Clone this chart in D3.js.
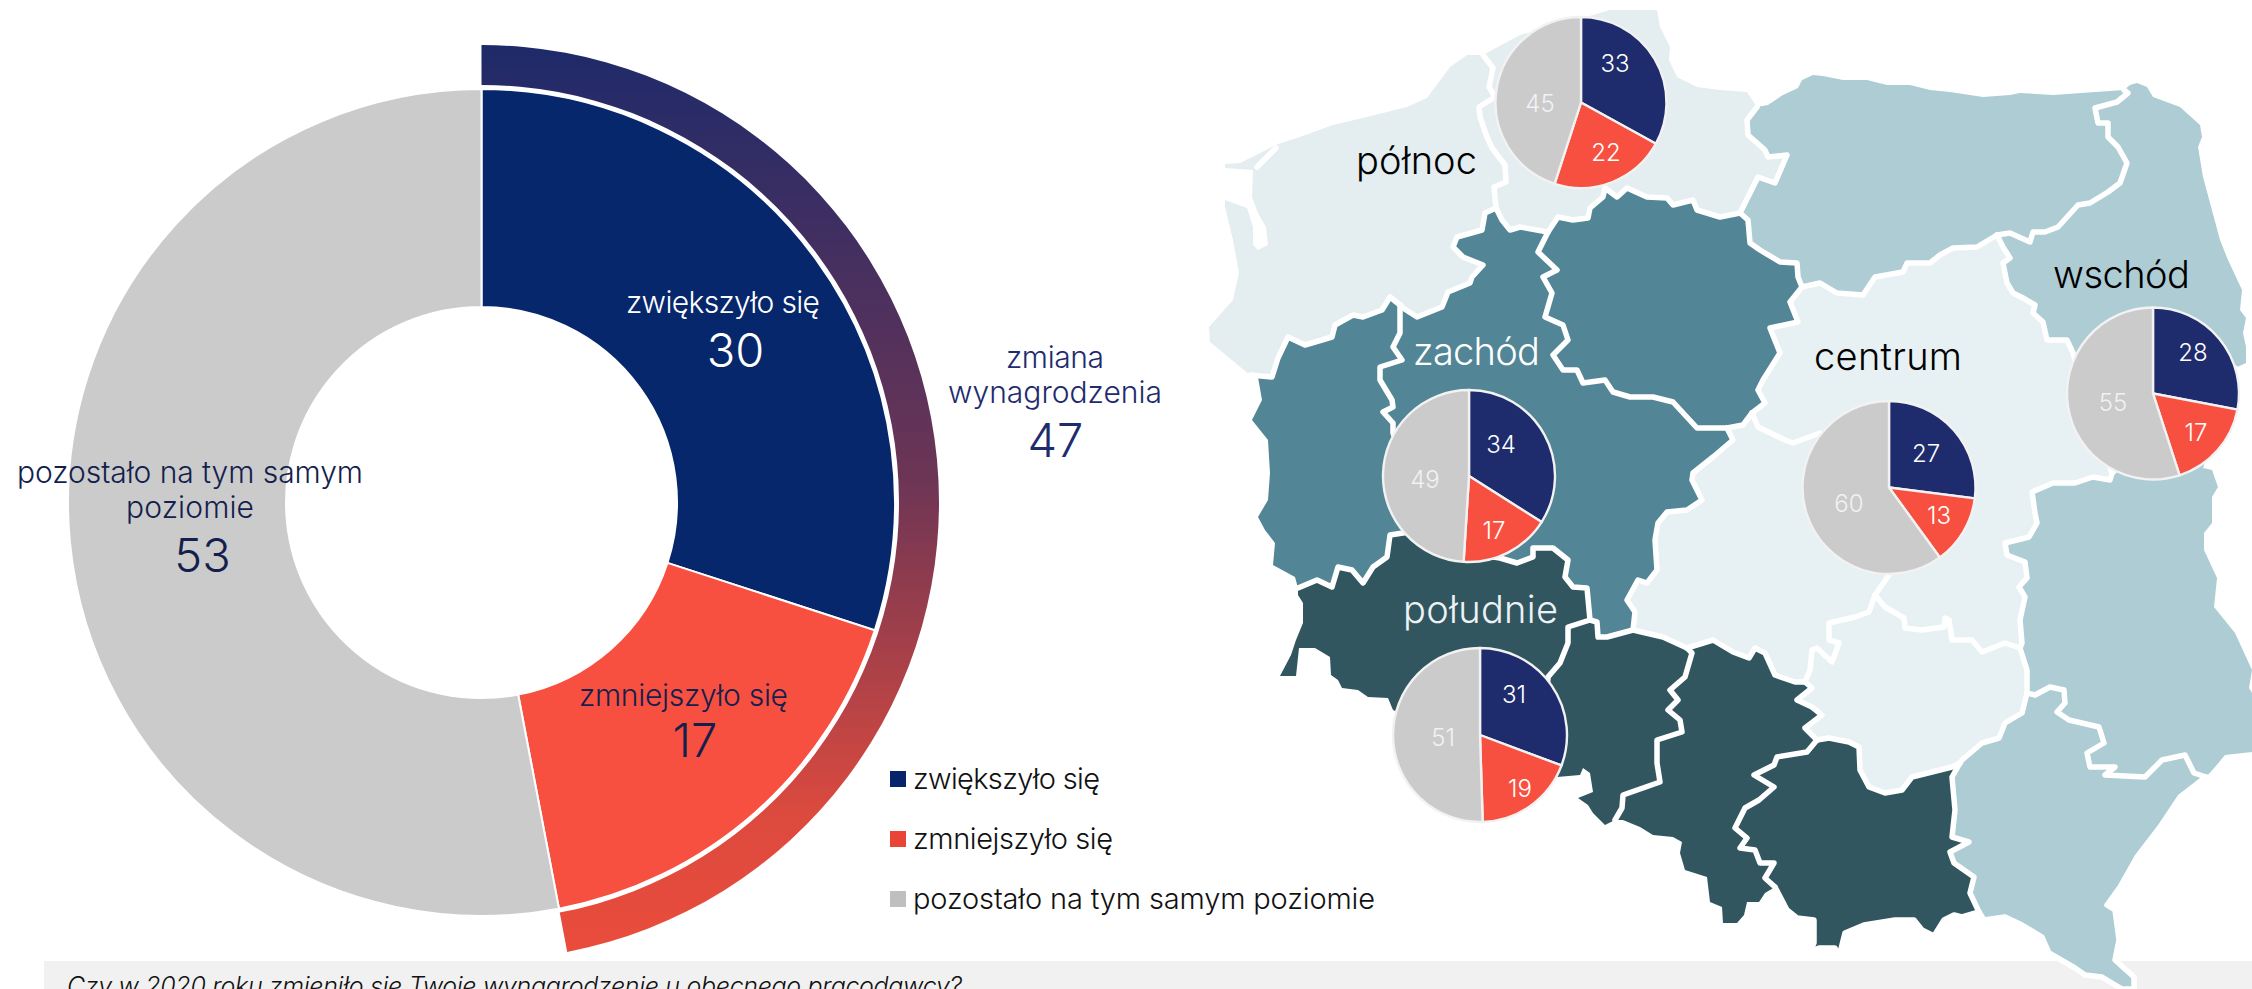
<!DOCTYPE html>
<html lang="pl">
<head>
<meta charset="utf-8">
<script src="https://cdn.jsdelivr.net/npm/d3@7"></script>
<style>
html,body{margin:0;padding:0;background:#fff;overflow:hidden}
svg{display:block}
text{font-family:"Inter",sans-serif}
</style>
</head>
<body>
<svg id="chart" width="2252" height="989"></svg>
<script>
// ---------- DATA ----------
const answerLabels = ["zwiększyło się", "zmniejszyło się", "pozostało na tym samym poziomie"];
const totalValues = [30, 17, 53];
const changeLabel = ["zmiana", "wynagrodzenia"];
const changeValue = 47;
const question = "Czy w 2020 roku zmieniło się Twoje wynagrodzenie u obecnego pracodawcy?";

const regionNames = ["północ", "zachód", "wschód", "centrum", "południe"];
const regionIncreased = [33, 34, 28, 27, 31];
const regionDecreased = [22, 17, 17, 13, 19];
const regionSame = [45, 49, 55, 60, 51];

// Map geometry, in map units: shared border arcs.
const zpCoast = [[1250,375],[1210,342],[1209,327],[1233,300],[1239,273],[1233,240],[1225,207],[1225,200],[1233,203],[1247,208],[1253,227],[1253,245],[1258,250],[1268,245],[1266,227],[1258,213],[1252,197],[1253,170],[1225,168],[1225,164],[1240,163],[1262,152],[1278,144],[1300,137],[1333,125],[1367,117],[1407,107],[1427,98],[1450,67],[1467,55],[1483,55]];
const zpLagoon = [[1257,167],[1276,148]];
const zpPm = [[1483,55],[1493,68],[1489,87],[1495,97],[1479,107],[1480,117],[1487,137],[1492,148],[1505,165],[1506,182],[1494,187],[1496,208]];
const zpWp = [[1496,208],[1485,213],[1482,230],[1457,237],[1453,247],[1463,257],[1483,265],[1472,277],[1470,283],[1448,292],[1442,307],[1417,317],[1403,308],[1400,305]];
const zpLb = [[1400,305],[1390,297],[1382,310],[1363,317],[1353,315],[1335,325],[1332,337],[1305,345],[1288,337],[1278,358],[1272,377],[1250,375]];
const pmCoast = [[1483,55],[1520,35],[1593,15],[1610,10],[1657,10],[1660,27],[1670,47],[1669,60],[1677,77],[1697,87],[1720,90],[1747,92],[1757,107]];
const pmWm = [[1757,107],[1747,120],[1748,135],[1765,150],[1768,157],[1787,155],[1775,183],[1758,177],[1740,213]];
const pmKp = [[1740,213],[1720,217],[1697,210],[1693,200],[1673,205],[1667,198],[1647,197],[1627,188],[1617,197],[1605,188],[1603,197],[1590,208],[1588,218],[1573,220],[1558,217],[1548,232]];
const pmWp = [[1548,232],[1520,227],[1510,230],[1502,220],[1496,208]];
const kpWp = [[1548,232],[1538,252],[1557,270],[1543,277],[1552,293],[1545,317],[1563,325],[1568,340],[1553,355],[1563,370],[1577,370],[1583,383],[1605,380],[1613,392],[1630,397],[1653,397],[1673,402],[1697,428],[1727,428]];
const kpLd = [[1727,428],[1743,425],[1752,413]];
const kpMz = [[1802,287],[1790,302],[1798,322],[1770,328],[1780,353],[1763,380],[1758,390],[1765,403],[1752,413]];
const kpWm = [[1740,213],[1748,220],[1750,243],[1760,250],[1780,262],[1797,263],[1798,277],[1802,287]];
const wpLb = [[1400,305],[1400,333],[1393,347],[1402,360],[1380,367],[1380,380],[1392,400],[1393,407],[1383,412],[1393,423],[1393,433],[1410,480],[1420,530]];
const wpDs = [[1420,530],[1480,555],[1500,558],[1517,563],[1533,557],[1533,548],[1553,548],[1568,560],[1565,577],[1573,587],[1587,588],[1590,620]];
const wpOp = [[1590,620],[1597,622],[1598,637],[1607,637],[1633,630]];
const wpLd = [[1727,428],[1733,440],[1713,457],[1693,473],[1692,480],[1702,500],[1687,510],[1667,512],[1658,523],[1655,540],[1657,570],[1647,583],[1638,580],[1627,600],[1635,612],[1633,630]];
const lbDs = [[1298,588],[1317,580],[1332,587],[1338,567],[1352,570],[1363,583],[1373,567],[1387,557],[1390,535],[1403,533],[1420,530]];
const lbWest = [[1298,588],[1295,577],[1273,565],[1275,543],[1265,530],[1258,517],[1268,500],[1270,473],[1268,440],[1252,420],[1262,400],[1258,377],[1250,375]];
const dsOp = [[1590,620],[1568,627],[1568,643],[1560,663],[1548,677],[1545,730],[1540,775]];
const dsOuter = [[1540,775],[1393,710],[1388,698],[1368,697],[1358,690],[1342,688],[1338,680],[1331,675],[1330,657],[1315,648],[1299,648],[1296,676],[1280,676],[1291,655],[1296,640],[1303,623],[1303,603],[1298,595],[1298,588]];
const opLd = [[1633,630],[1663,637],[1687,648]];
const opSl = [[1687,648],[1692,653],[1685,677],[1670,690],[1678,700],[1668,710],[1680,720],[1682,732],[1657,740],[1657,763],[1660,782],[1623,795],[1622,808],[1615,820]];
const opOuter = [[1615,820],[1605,825],[1593,813],[1588,805],[1578,798],[1593,792],[1590,773],[1583,768],[1580,775],[1557,777],[1540,775]];
const ldSl = [[1687,648],[1713,640],[1733,652],[1749,658],[1755,648],[1765,653],[1775,675],[1795,682],[1805,682]];
const ldMz = [[1752,413],[1758,427],[1785,440],[1793,443],[1820,433],[1889,575],[1875,595]];
const ldSw = [[1875,595],[1869,612],[1855,617],[1829,623],[1829,640],[1839,643],[1832,662],[1817,648],[1812,650],[1810,670],[1805,682]];
const slSw = [[1805,682],[1812,688],[1797,700],[1812,707],[1822,715],[1805,728],[1817,740]];
const slMa = [[1817,740],[1807,752],[1777,757],[1774,765],[1754,775],[1774,787],[1759,800],[1745,808],[1735,828],[1747,838],[1740,848],[1755,850],[1760,863],[1774,863],[1765,878],[1775,887]];
const slOuter = [[1775,887],[1765,893],[1759,902],[1747,902],[1744,915],[1737,923],[1723,923],[1722,907],[1710,902],[1707,877],[1685,870],[1680,853],[1682,842],[1673,837],[1653,835],[1640,827],[1623,820],[1615,820]];
const swMa = [[1817,740],[1829,738],[1849,742],[1859,747],[1860,770],[1869,787],[1885,793],[1902,790],[1912,777],[1952,767],[1960,763]];
const maPk = [[1960,763],[1952,777],[1955,810],[1952,837],[1969,842],[1950,852],[1954,863],[1974,877],[1970,893],[1979,912]];
const maOuter = [[1775,887],[1787,910],[1797,918],[1814,920],[1814,943],[1810,952],[1819,948],[1835,948],[1839,957],[1845,933],[1864,925],[1895,920],[1914,920],[1922,930],[1934,936],[1944,920],[1954,915],[1962,917],[1979,912]];
const swMz = [[1875,595],[1885,607],[1904,618],[1905,628],[1922,630],[1944,627],[1945,618],[1949,620],[1952,640],[1972,640],[1982,652],[2005,643],[2020,648]];
const swLu = [[2020,648],[2027,670],[2027,693]];
const swPk = [[2027,693],[2022,713],[2005,723],[1999,738],[1982,743],[1962,760],[1960,763]];
const mzPd = [[1997,235],[2003,247],[2010,258],[2003,263],[2007,283],[2013,293],[2023,298],[2035,305],[2033,313],[2043,322],[2047,340],[2067,340],[2073,353],[2092,420],[2112,473]];
const mzLu = [[2112,473],[2110,480],[2093,477],[2075,483],[2053,483],[2032,492],[2035,513],[2037,523],[2029,537],[2005,543],[2007,555],[2025,562],[2027,578],[2019,587],[2025,597],[2020,620],[2022,643],[2020,648]];
const wmMz = [[1802,287],[1820,283],[1837,293],[1863,295],[1875,277],[1903,272],[1907,263],[1930,263],[1940,255],[1953,248],[1977,247],[1997,235]];
const wmCoast = [[1757,107],[1768,105],[1783,95],[1798,88],[1802,80],[1813,75],[1823,76],[1843,80],[1867,80],[1887,85],[1910,85],[1930,90],[1950,92],[1983,97],[2010,95],[2020,93],[2053,95],[2124,90]];
const wmPd = [[1997,235],[2010,233],[2030,242],[2033,232],[2045,232],[2058,227],[2078,205],[2090,203],[2108,192],[2120,183],[2127,163],[2118,147],[2108,137],[2108,123],[2098,123],[2095,108],[2117,102],[2128,93],[2124,90]];
const pdEast = [[2124,90],[2130,85],[2137,83],[2147,87],[2153,97],[2180,107],[2200,125],[2202,137],[2198,147],[2203,177],[2210,203],[2220,240],[2228,260],[2242,290],[2240,310],[2246,318],[2243,333],[2246,347],[2246,363],[2235,368]];
const pdLu = [[2235,368],[2112,473]];
const luEast = [[2235,368],[2203,468],[2212,470],[2218,487],[2212,497],[2212,523],[2204,533],[2204,550],[2217,578],[2214,607],[2235,633],[2252,670],[2249,688],[2252,693],[2252,752],[2225,755],[2215,767],[2206,777]];
const pkLu = [[2027,693],[2035,695],[2050,687],[2064,690],[2065,703],[2057,712],[2069,720],[2099,727],[2104,743],[2087,753],[2090,767],[2115,767],[2105,775],[2145,777],[2162,760],[2185,755],[2194,773],[2206,777]];
const pkOuter = [[1979,912],[1984,920],[2005,917],[2022,925],[2042,937],[2049,953],[2075,968],[2085,975],[2102,977],[2122,989],[2134,989],[2134,977],[2115,960],[2119,940],[2115,910],[2107,905],[2120,887],[2137,857],[2160,827],[2180,797],[2202,780],[2206,777]];

// voivodeship -> region index + chain of arcs ("rev" = walked backwards)
const rev = a => a.slice().reverse();
const voivodeshipNames = ["zachodniopomorskie","pomorskie","kujawsko-pomorskie","wielkopolskie","lubuskie","dolnośląskie","opolskie","śląskie","małopolskie","świętokrzyskie","łódzkie","mazowieckie","warmińsko-mazurskie","podlaskie","lubelskie","podkarpackie"];
const voivodeshipRegion = [0,0,1,1,1,4,4,4,4,3,3,3,2,2,2,2];
const voivodeshipArcs = [
  [zpCoast,zpPm,zpWp,zpLb],
  [pmCoast,pmWm,pmKp,pmWp,rev(zpPm)],
  [rev(pmKp),kpWm,kpMz,rev(kpLd),rev(kpWp)],
  [wpLb,wpDs,wpOp,rev(wpLd),rev(kpWp),pmWp,zpWp],
  [rev(zpLb),wpLb,rev(lbDs),lbWest],
  [lbDs,wpDs,dsOp,dsOuter],
  [wpOp,opLd,opSl,opOuter,rev(dsOp)],
  [rev(opSl),ldSl,slSw,slMa,slOuter],
  [swMa,maPk,rev(maOuter),rev(slMa)],
  [swMz,swLu,swPk,rev(swMa),rev(slSw),rev(ldSw)],
  [kpLd,ldMz,ldSw,rev(ldSl),rev(opLd),rev(wpLd)],
  [mzPd,mzLu,rev(swMz),rev(ldMz),rev(kpMz),wmMz],
  [wmCoast,rev(wmPd),rev(wmMz),rev(kpWm),rev(pmWm)],
  [wmPd,pdEast,pdLu,rev(mzPd)],
  [rev(pdLu),luEast,rev(pkLu),rev(swLu),rev(mzLu)],
  [swPk,maPk,pkOuter,rev(pkLu)]
];
// Borders that carry the white outline (the traced coast stays as the fill's edge)
const whiteBorders = [zpPm,zpWp,zpLb,pmWm,pmKp,pmWp,kpWp,kpLd,kpMz,kpWm,wpLb,wpDs,wpOp,wpLd,lbDs,dsOp,opLd,opSl,ldSl,ldMz,ldSw,slSw,slMa,swMa,maPk,maOuter,swMz,swLu,swPk,mzPd,mzLu,wmMz,wmPd,pdLu,pkLu,pkOuter,zpLagoon];

// ---------- LAYOUT / STYLE (not data) ----------
const W = 2252, H = 989;
const bigColors = ["#06276b", "#f85040", "#cbcbcb"];
const pieColors = ["#1e2b6d", "#f85040", "#cbcbcb"];
const legendColors = ["#06246b", "#e84536", "#bfbfbf"];
const regionFill = ["#e4edf0", "#528595", "#adccd4", "#e7f0f3", "#315660"];
const donut = {cx:481.5, cy:502.5, r0:195.5, r1:413.5, ringR0:417.5, ringR1:457.5};
const pieGeom = [
  {cx:1581, cy:102.5, r:85.5, lbl:[[1615,72],[1606,161],[1540,112]], name:[1356,174,121,"#000"]},
  {cx:1469, cy:476,   r:86,   lbl:[[1501,453],[1494,539],[1425,488]], name:[1413,365,127,"#fff"]},
  {cx:2153, cy:393.5, r:86,   lbl:[[2193,361],[2196,441],[2113,411]], name:[2053,288,137,"#000"]},
  {cx:1889, cy:487.5, r:86.5, lbl:[[1926,462],[1939,524],[1849,512]], name:[1814,370,148,"#000"]},
  {cx:1480, cy:735,   r:87,   lbl:[[1514,703],[1520,797],[1443,746]], name:[1403,623,155,"#edf2f4"]}
];
const ink = "#141f4d";

const svg = d3.select("#chart");
const defs = svg.append("defs");

function label(g, str, x, y, size, fill, width, opts={}) {
  const t = g.append("text")
    .attr("x", x).attr("y", y)
    .attr("font-size", size).attr("fill", fill)
    .attr("font-weight", opts.weight || 300)
    .attr("text-anchor", opts.anchor || "start")
    .text(str);
  if (opts.style) t.attr("font-style", opts.style);
  if (width) t.attr("textLength", width).attr("lengthAdjust", "spacing");
  return t;
}

// ---------- BOTTOM BAND ----------
svg.append("rect").attr("x",44).attr("y",961).attr("width",W-44).attr("height",H-961).attr("fill","#f1f1f1");
label(svg, question, 67, 995, 25, "#111", 895, {style:"italic"});

// ---------- MAP ----------
const mapX = d3.scaleLinear().domain([1200,2252]).range([1200,2252]);
const mapY = d3.scaleLinear().domain([0,989]).range([0,989]);
const mapLine = d3.line().x(d => mapX(d[0])).y(d => mapY(d[1])).curve(d3.curveLinear);
const mapG = svg.append("g");
mapG.selectAll("path.v").data(voivodeshipArcs).join("path")
  .attr("class","v")
  .attr("d", arcs => mapLine(arcs.flat()) + "Z")
  .attr("fill", (d,i) => regionFill[voivodeshipRegion[i]])
  .append("title").text((d,i) => voivodeshipNames[i]);
mapG.selectAll("path.b").data(whiteBorders).join("path")
  .attr("class","b")
  .attr("d", mapLine)
  .attr("fill","none").attr("stroke","#fff").attr("stroke-width",5.5)
  .attr("stroke-linejoin","round").attr("stroke-linecap","round");

// ---------- SMALL PIES ----------
const pieGen = d3.pie().sort(null).value(d => d);
regionNames.forEach((name, i) => {
  const g0 = pieGeom[i];
  label(svg, name, g0.name[0], g0.name[1], 38, g0.name[3], g0.name[2]);
  const vals = [regionIncreased[i], regionDecreased[i], regionSame[i]];
  const arc = d3.arc().innerRadius(0).outerRadius(g0.r);
  const g = svg.append("g").attr("transform", `translate(${g0.cx},${g0.cy})`);
  g.selectAll("path").data(pieGen(vals)).join("path")
    .attr("d", arc)
    .attr("fill", (d,j) => pieColors[j])
    .attr("stroke","#f2f2f2").attr("stroke-width",2.4).attr("stroke-linejoin","round");
  vals.forEach((v,j) => {
    label(svg, String(v), g0.lbl[j][0], g0.lbl[j][1], 24, j===2 ? "#f2f2f2" : "#fff", null, {anchor:"middle"});
  });
});

// ---------- BIG DONUT ----------
const dg = svg.append("g").attr("transform", `translate(${donut.cx},${donut.cy})`);
const bigArc = d3.arc().innerRadius(donut.r0).outerRadius(donut.r1);
dg.selectAll("path.s").data(pieGen(totalValues)).join("path")
  .attr("class","s").attr("d", bigArc)
  .attr("fill",(d,i)=>bigColors[i])
  .attr("stroke","#fff").attr("stroke-width",2);

const grad = defs.append("linearGradient").attr("id","ringGrad")
  .attr("gradientUnits","userSpaceOnUse").attr("x1",0).attr("x2",0)
  .attr("y1",45-donut.cy).attr("y2",951-donut.cy);
[[0,"#1e2a6a"],[0.48,"#6d3555"],[0.85,"#dc4a3e"],[1,"#ea4c3b"]].forEach(s =>
  grad.append("stop").attr("offset",s[0]).attr("stop-color",s[1]));
const angle = d3.scaleLinear().domain([0,100]).range([0,2*Math.PI]);
const ringArc = d3.arc().innerRadius(donut.ringR0).outerRadius(donut.ringR1).startAngle(0).endAngle(angle(changeValue));
dg.append("path").attr("d", ringArc()).attr("fill","url(#ringGrad)");

// big donut labels
label(svg, answerLabels[0], 626, 313, 30, "#fff", 194);
label(svg, String(totalValues[0]), 735.5, 367, 47, "#fff", null, {anchor:"middle"});
label(svg, answerLabels[1], 579, 706, 30, ink, 209);
label(svg, String(totalValues[1]), 695, 757, 47, ink, null, {anchor:"middle"});
label(svg, "pozostało na tym samym", 17, 483, 30, ink, 346);
label(svg, "poziomie", 126, 518, 30, ink, 128);
label(svg, String(totalValues[2]), 202.5, 572, 47, ink, null, {anchor:"middle"});

label(svg, changeLabel[0], 1006, 368, 30, "#1e2b6d", 98);
label(svg, changeLabel[1], 948, 403, 30, "#1e2b6d", 214);
label(svg, String(changeValue), 1055.5, 457, 47, "#1e2b6d", null, {anchor:"middle"});

// ---------- LEGEND ----------
const legendY = d3.scalePoint().domain(answerLabels).range([771,891]);
const legendG = svg.append("g");
legendG.selectAll("rect").data(answerLabels).join("rect")
  .attr("x",890).attr("y",d=>legendY(d)).attr("width",16).attr("height",16)
  .attr("fill",(d,i)=>legendColors[i]);
const legendWidths = [187, 200, 462];
answerLabels.forEach((d,i) => label(legendG, d, 913, legendY(d)+18, 29, "#111", legendWidths[i]));
</script>
</body>
</html>
